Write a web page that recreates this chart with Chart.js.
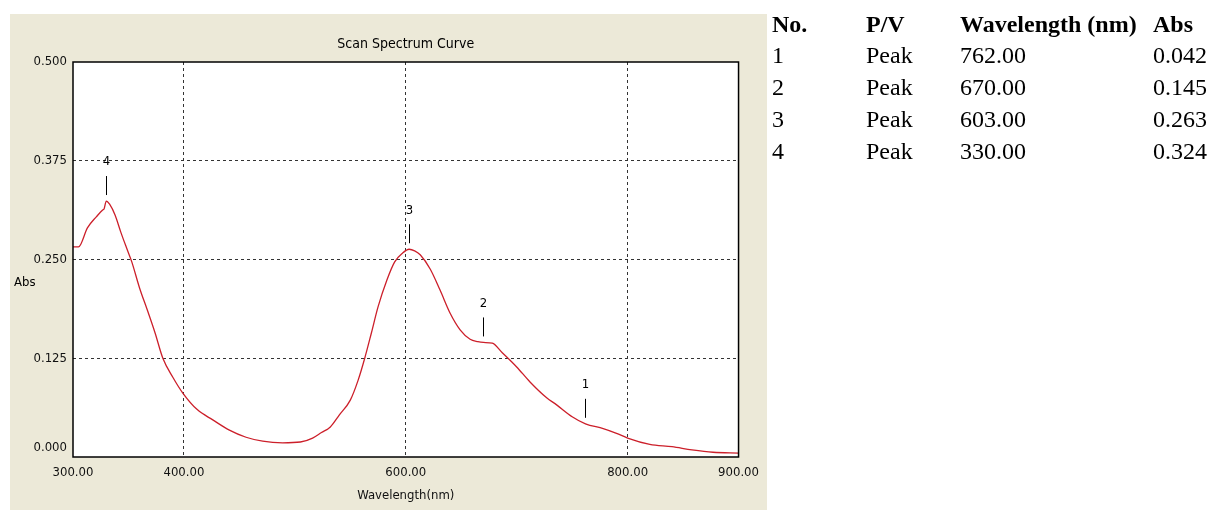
<!DOCTYPE html>
<html><head><meta charset="utf-8">
<script src="https://cdn.jsdelivr.net/npm/chart.js@4.4.1/dist/chart.umd.min.js"></script>
<style>
html,body{margin:0;padding:0;background:#fff;width:1210px;height:510px;overflow:hidden;}
#panel{position:absolute;left:10px;top:14px;width:757px;height:496px;background:#ECE9D8;}
#panel canvas{display:block;}
#tbl{position:absolute;left:0;top:0;width:1210px;height:200px;font-family:'Liberation Serif','Times New Roman',serif;font-size:24px;color:#000;}
.c{position:absolute;white-space:nowrap;line-height:24px;}
.h{font-weight:bold;}
</style></head><body>
<div id="panel"><canvas id="c" width="757" height="496"></canvas></div>
<div id="tbl"></div>
<script>
// ---- data ----
const wavelengths = [300,305,313,321,327,328,330,333,338,343,349,353,360,367,374,381,390,399,412,426,441,456,471,489,505,516,524,532,540,550,557,563,569,575,583,590,597,603,608,613,622,631,640,649,658,665,670,678,687,700,712,727,736,750,762,778,790,800,820,840,858,877,900];
const absorbance  = [0.266,0.266,0.290,0.304,0.313,0.314,0.324,0.320,0.306,0.285,0.262,0.247,0.214,0.186,0.157,0.125,0.101,0.081,0.060,0.047,0.034,0.025,0.020,0.018,0.019,0.024,0.031,0.038,0.053,0.072,0.097,0.125,0.157,0.190,0.224,0.247,0.258,0.263,0.261,0.256,0.238,0.211,0.182,0.161,0.149,0.146,0.145,0.144,0.132,0.114,0.095,0.075,0.066,0.051,0.042,0.036,0.030,0.024,0.016,0.013,0.009,0.006,0.005];
const xTickValues = [300,400,600,800,900];
const yTickValues = [0,0.125,0.25,0.375,0.5];
const peakNo   = [1,2,3,4];
const peakType = ['Peak','Peak','Peak','Peak'];
const peakWl   = [762,670,603,330];
const peakAbs  = [0.042,0.145,0.263,0.324];
const tableHeaders = ['No.','P/V','Wavelength (nm)','Abs'];
const chartTitle = 'Scan Spectrum Curve';
const xTitle = 'Wavelength(nm)';
const yTitle = 'Abs';

// ---- peak table (text) ----
const colX = [772,866,960,1153];
const baselines = [32,63,95,127,159];
const tbl = document.getElementById('tbl');
function cell(txt, x, base, bold){
  const d=document.createElement('div');
  d.className='c'+(bold?' h':'');
  d.style.left=x+'px'; d.style.top=(base-20)+'px';
  d.textContent=txt; tbl.appendChild(d);
}
tableHeaders.forEach((h,i)=>cell(h,colX[i],baselines[0],true));
peakNo.forEach((n,r)=>{
  cell(String(n),colX[0],baselines[r+1]);
  cell(peakType[r],colX[1],baselines[r+1]);
  cell(peakWl[r].toFixed(2),colX[2],baselines[r+1]);
  cell(peakAbs[r].toFixed(3),colX[3],baselines[r+1]);
});

// ---- chart ----
const FONT = "'Liberation Sans Narrow','DejaVu Sans Condensed','Arial Narrow',sans-serif";
const decor = {
  id:'decor',
  beforeDraw(chart){
    const {ctx,chartArea:a}=chart;
    ctx.save(); ctx.fillStyle='#fff';
    ctx.fillRect(a.left,a.top,a.right-a.left,a.bottom-a.top); ctx.restore();
  },
  afterDatasetsDraw(chart){
    const {ctx,chartArea:a,scales:{x,y}}=chart;
    ctx.save();
    // peak markers
    ctx.strokeStyle='#000'; ctx.lineWidth=1; ctx.fillStyle='#000';
    ctx.font='13px '+FONT; ctx.textAlign='center'; ctx.textBaseline='middle';
    peakNo.forEach((n,i)=>{
      const px=Math.round(x.getPixelForValue(peakWl[i]))+0.5;
      const py=y.getPixelForValue(peakAbs[i]);
      ctx.beginPath(); ctx.moveTo(px,py-25); ctx.lineTo(px,py-6); ctx.stroke();
      ctx.fillText(String(n),px,py-39);
    });
    // frame
    ctx.strokeStyle='#000'; ctx.lineWidth=1.5;
    ctx.strokeRect(a.left,a.top,a.right-a.left,a.bottom-a.top);
    // y tick labels (lowest one kept above the axis line, as in the original)
    ctx.font='13px '+FONT; ctx.textAlign='right'; ctx.fillStyle='#111';
    yTickValues.forEach(v=>{
      const py=Math.min(y.getPixelForValue(v),a.bottom-9);
      ctx.fillText(v.toFixed(3),a.left-6,py);
    });
    // title
    ctx.fillStyle='#000';
    ctx.font='14px '+FONT; ctx.textAlign='center';
    ctx.fillText(chartTitle,(a.left+a.right)/2,a.top-18);
    // y title (horizontal)
    ctx.font='13px '+FONT; ctx.textAlign='left';
    ctx.fillText(yTitle,4,a.top+221);
    ctx.restore();
  }
};

new Chart(document.getElementById('c'),{
  type:'line',
  data:{labels:wavelengths,datasets:[{
    data:wavelengths.map((w,i)=>({x:w,y:absorbance[i]})),
    borderColor:'#cc1f2a',borderWidth:1.3,pointRadius:0,tension:0.3,
    cubicInterpolationMode:'monotone',fill:false
  }]},
  options:{
    responsive:false,animation:false,devicePixelRatio:1,
    layout:{padding:{top:48,right:26,left:0,bottom:0}},
    plugins:{legend:{display:false},tooltip:{enabled:false},title:{display:false}},
    scales:{
      x:{type:'linear',min:300,max:900,
        afterBuildTicks:s=>{s.ticks=xTickValues.map(v=>({value:v}));},
        afterFit:s=>{s.height=53;},
        ticks:{font:{family:FONT,size:13},color:'#111',padding:8,maxRotation:0,autoSkip:false,
          callback:v=>Number(v).toFixed(2)},
        grid:{drawTicks:false,lineWidth:1,
          color:c=>(c.tick&&(c.tick.value===300||c.tick.value===900))?'rgba(0,0,0,0)':'#333'},
        border:{display:false,dash:[3,3]},
        title:{display:true,text:xTitle,font:{family:FONT,size:13},color:'#111',padding:{top:0,bottom:7}}
      },
      y:{type:'linear',min:0,max:0.5,
        afterBuildTicks:s=>{s.ticks=yTickValues.map(v=>({value:v}));},
        afterFit:s=>{s.width=63;},
        ticks:{display:false},
        grid:{drawTicks:false,lineWidth:1,
          color:c=>(c.tick&&(c.tick.value===0||c.tick.value===0.5))?'rgba(0,0,0,0)':'#333'},
        border:{display:false,dash:[3,3]}
      }
    }
  },
  plugins:[decor]
});
</script>
</body></html>
